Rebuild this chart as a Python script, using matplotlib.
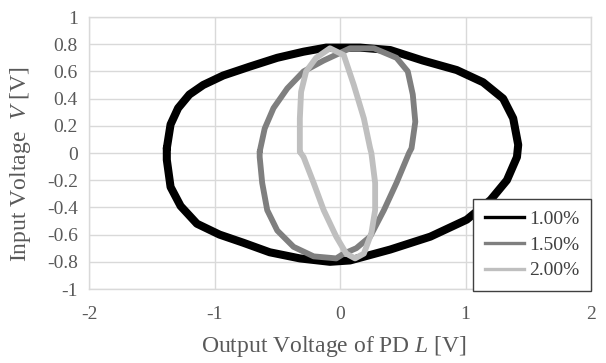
import matplotlib
matplotlib.use("Agg")
import matplotlib.pyplot as plt
from matplotlib.lines import Line2D

# Loop traces (x = Output Voltage L, y = Input Voltage V)
black_x = [-1.38, -1.35, -1.29, -1.20, -1.09, -0.93, -0.72, -0.50, -0.29, -0.11, 0.16, 0.40,
           0.66, 0.93, 1.14, 1.30, 1.38, 1.42, 1.41, 1.33, 1.20, 1.01, 0.72, 0.40, 0.08,
           -0.08, -0.32, -0.56, -0.77, -0.96, -1.14, -1.27, -1.35, -1.38, -1.38]
black_y = [0.035, 0.21, 0.33, 0.43, 0.50, 0.57, 0.635, 0.70, 0.745, 0.775, 0.775, 0.757,
           0.68, 0.61, 0.52, 0.40, 0.255, 0.06, -0.03, -0.20, -0.345, -0.49, -0.615, -0.71, -0.79,
           -0.80, -0.775, -0.73, -0.66, -0.60, -0.52, -0.39, -0.25, -0.05, 0.035]

dgray_x = [-0.64, -0.60, -0.53, -0.42, -0.29, -0.13, 0.08, 0.27, 0.45, 0.54, 0.58, 0.60,
           0.57, 0.55, 0.45, 0.35, 0.24, 0.13, 0.03, -0.03, -0.21, -0.37, -0.50, -0.58,
           -0.62, -0.64, -0.64]
dgray_y = [0.01, 0.18, 0.33, 0.475, 0.60, 0.68, 0.77, 0.77, 0.70, 0.60, 0.43, 0.23,
           0.035, 0.0, -0.22, -0.42, -0.615, -0.70, -0.74, -0.775, -0.76, -0.69, -0.57, -0.42,
           -0.22, -0.03, 0.01]

lgray_x = [-0.32, -0.32, -0.31, -0.27, -0.19, -0.08, 0.03, 0.11, 0.19, 0.24, 0.25, 0.28,
           0.28, 0.25, 0.19, 0.12, 0.05, -0.03, -0.13, -0.21, -0.29, -0.32]
lgray_y = [0.01, 0.255, 0.45, 0.60, 0.70, 0.77, 0.72, 0.50, 0.255, 0.035, 0.0, -0.22,
           -0.42, -0.59, -0.74, -0.775, -0.74, -0.615, -0.42, -0.22, -0.03, 0.01]

labels = ["1.00%", "1.50%", "2.00%"]
x_ticks = [-2, -1, 0, 1, 2]
y_ticks = [-1, -0.8, -0.6, -0.4, -0.2, 0, 0.2, 0.4, 0.6, 0.8, 1]
y_ticklabels = ["-1", "-0.8", "-0.6", "-0.4", "-0.2", "0", "0.2", "0.4", "0.6", "0.8", "1"]

plt.rcParams['font.family'] = ['Liberation Serif', 'DejaVu Serif']
plt.rcParams['mathtext.fontset'] = 'custom'
plt.rcParams['mathtext.rm'] = 'Liberation Serif'
plt.rcParams['mathtext.it'] = 'Liberation Serif:italic'

W, H = 606, 363
fig = plt.figure(figsize=(W / 100, H / 100), dpi=100)
ax = fig.add_axes([89 / W, 1 - 289 / H, (591 - 89) / W, (289 - 17) / H])

kw = dict(solid_joinstyle='round', solid_capstyle='round')
ax.plot(black_x, black_y, color='#000000', lw=5.8, zorder=3, **kw)
ax.plot(dgray_x, dgray_y, color='#7f7f7f', lw=4.2, zorder=4, **kw)
ax.plot(lgray_x, lgray_y, color='#bfbfbf', lw=4.2, zorder=5, **kw)

ax.set_xlim(-2, 2)
ax.set_ylim(-1, 1)
ax.set_xticks(x_ticks)
ax.set_xticklabels([str(t) for t in x_ticks])
ax.set_yticks(y_ticks)
ax.set_yticklabels(y_ticklabels)
ax.grid(True, color='#d9d9d9', lw=1.0, zorder=0)
ax.set_axisbelow(True)
for s in ax.spines.values():
    s.set_color('#d9d9d9')
    s.set_linewidth(1.0)
ax.tick_params(length=0, labelsize=14, labelcolor='#595959')
ax.tick_params(axis='y', pad=8)
ax.tick_params(axis='x', pad=12)

ax.set_xlabel('Output Voltage of PD $\\mathit{L}$ [V]', fontsize=17, color='#595959')
ax.set_ylabel('Input Voltage  $\\mathit{V}$ [V]', fontsize=17, color='#595959')
ax.xaxis.set_label_coords((334.5 - 89) / 502, (289 - 334) / 272)
ax.yaxis.set_label_coords((33 - 89) / 502, (289 - 164) / 272)

handles = [Line2D([], [], color='#000000', lw=2.4),
           Line2D([], [], color='#7f7f7f', lw=2.4),
           Line2D([], [], color='#bfbfbf', lw=2.4)]
leg = fig.legend(handles, labels, loc='lower left',
                 bbox_to_anchor=(473 / W, 1 - 291 / H), borderaxespad=0,
                 fancybox=False, framealpha=1, edgecolor='#404040',
                 fontsize=14, handlelength=2.0, handletextpad=0.3,
                 labelspacing=0.42, borderpad=0.6)
leg.get_frame().set_linewidth(1.0)
for t in leg.get_texts():
    t.set_color('#404040')

fig.savefig('out.png', dpi=100)
